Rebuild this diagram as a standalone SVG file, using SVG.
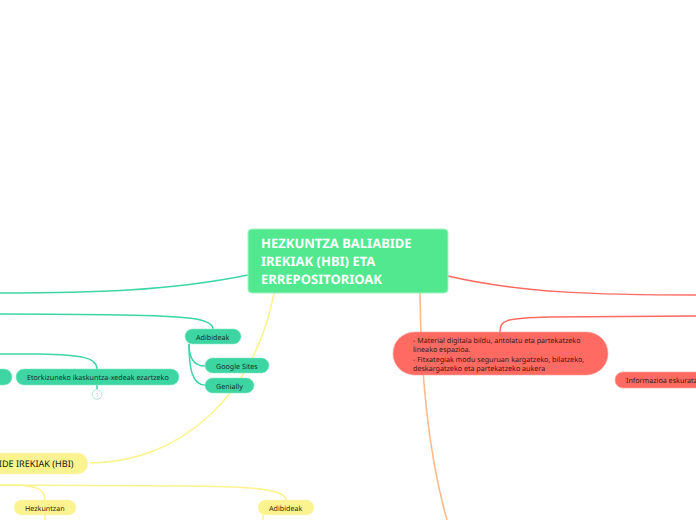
<svg xmlns="http://www.w3.org/2000/svg" width="696" height="520" viewBox="0 0 696 520">
<style>
text{font-family:"Noto Sans","Open Sans","DejaVu Sans",sans-serif;font-size:7.15px;fill:#14302a;text-rendering:geometricPrecision}
.l{fill:none;stroke-width:1.5}
.g{stroke:#3dd6a3}.y{stroke:#faf38f;stroke-width:1.6}.r{stroke:#ff6b63}.o{stroke:#ffba8c;stroke-width:1.6}
.gn{fill:#3dd6a3;stroke:#8ae8c8;stroke-width:.6}
.yn{fill:#faf38f;stroke:#fcf8bd;stroke-width:.6}
.rn{fill:#ff6b63;stroke:#ffa39d;stroke-width:.6}
.t{fill:#332a0c}.k{fill:#3a1513}
.h{font-size:13px;font-weight:700;fill:#fff}
</style>
<g id="connectors">
<path class="l g" d="M248 275C170 291 90 293 0 293"/>
<path class="l g" d="M213 329C213 318 185 316 120 315C70 314 30 314 0 314"/>
<path class="l g" d="M189 344C189 356 192 366 205 366"/>
<path class="l g" d="M189 344C189 368 192 385 205 385"/>
<path class="l g" d="M97 369C97 357 80 355 40 354L0 354"/>
<path class="l g" d="M97 385V389"/>
<path class="l y" d="M274 293C255 395 180 463 90 463"/>
<path class="l y" d="M45 500C45 488 35 486 15 485L0 485"/>
<path class="l y" d="M286 500C286 489 250 486 180 486L0 485"/>
<path class="l y" d="M45 515V520"/>
<path class="l y" d="M263 515V520"/>
<path class="l r" d="M448 276C520 293 600 295 696 295"/>
<path class="l r" d="M500 332C500 320 505 318 550 317L696 316"/>
<path class="l o" d="M420 293C421 390 430 460 447 520"/>
</g>
<g id="root">
<rect x="248" y="229" width="200" height="64" rx="4" fill="#52e890" stroke="#a5f2c5"/>
<text x="261" y="248" class="h">HEZKUNTZA BALIABIDE</text>
<text x="261" y="266" class="h">IREKIAK (HBI) ETA</text>
<text x="261" y="284" class="h">ERREPOSITORIOAK</text>
</g>
<g id="n-adibideak-g"><rect class="gn" x="185" y="329" width="56" height="15" rx="7.500"/><text x="196" y="339.500">Adibideak</text></g>
<g id="n-sites"><rect class="gn" x="205" y="358" width="64" height="15" rx="7.500"/><text x="216" y="369">Google Sites</text></g>
<g id="n-genially"><rect class="gn" x="205" y="378" width="49" height="15" rx="7.500"/><text x="216" y="388.500">Genially</text></g>
<g id="n-left"><rect class="gn" x="-30" y="369" width="42" height="16" rx="8"/></g>
<g id="n-etorkizuneko"><rect class="gn" x="16" y="369" width="163" height="16" rx="8"/><text x="27" y="380">Etorkizuneko ikaskuntza-xedeak ezartzeko</text></g>
<g id="n-badge"><circle cx="97" cy="394.500" r="4.800" fill="#fff" stroke="#a8efd6"/><text x="97" y="397" text-anchor="middle" style="font-size:6px;fill:#a8dfcf">1</text></g>
<g id="n-hbi"><rect class="yn" x="-120" y="453" width="208" height="21" rx="10.500"/><text x="73.500" y="467" text-anchor="end" style="font-size:9.100px;fill:#1a1a10">BALIABIDE IREKIAK (HBI)</text></g>
<g id="n-hezkuntzan"><rect class="yn" x="14" y="500" width="62" height="15" rx="7.500"/><text x="25" y="510.500" class="t">Hezkuntzan</text></g>
<g id="n-adibideak-y"><rect class="yn" x="258" y="500" width="56" height="15" rx="7.500"/><text x="269" y="510.500" class="t">Adibideak</text></g>
<g id="n-material"><rect class="rn" x="393" y="332" width="215" height="43" rx="21.500"/>
<text x="413" y="342.500" class="k">- Material digitala bildu, antolatu eta partekatzeko</text>
<text x="413" y="352" class="k">lineako espazioa.</text>
<text x="413" y="361.500" class="k">- Fitxategiak modu seguruan kargatzeko, bilatzeko,</text>
<text x="413" y="371" class="k">deskargatzeko eta partekatzeko aukera</text></g>
<g id="n-informazioa"><rect class="rn" x="615" y="372" width="120" height="16" rx="8"/><text x="626" y="383" class="k">Informazioa eskuratzeko</text></g>
</svg>
